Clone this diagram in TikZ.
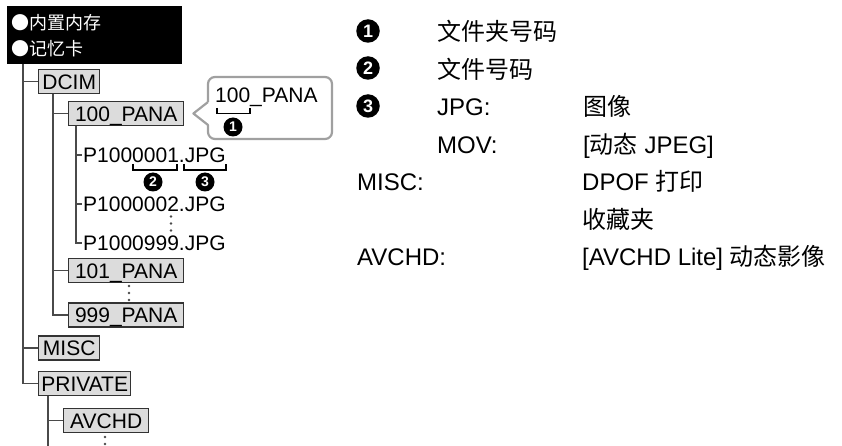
\documentclass[tikz,border=0pt]{standalone}
\usepackage{fontspec}
\setmainfont{Liberation Sans}
\newfontfamily\cjk{Noto Sans CJK SC}
\definecolor{boxfill}{HTML}{DCDCDC}
\definecolor{boxline}{HTML}{333333}
\definecolor{treeline}{HTML}{4A4A4A}
\definecolor{callgray}{HTML}{A0A0A0}
\newcommand\treefont{\fontsize{21}{24}\selectfont}
\newcommand\listfont{\fontsize{24}{28}\selectfont}
\begin{document}
\begin{tikzpicture}[x=1pt,y=-1pt,
  rootbox/.style={fill=black, text=white, anchor=north west, minimum width=175pt, minimum height=58pt,
    text width=167pt, inner xsep=4pt, align=left, font=\cjk\fontsize{18}{26}\selectfont},
  fbox/.style={draw=boxline, fill=boxfill, line width=1.4pt, font=\treefont, text height=15.1pt,
    text depth=0pt, minimum height=24pt, inner xsep=0pt, anchor=west},
  ftext/.style={font=\treefont, anchor=west, inner xsep=1pt, inner ysep=0pt, text height=15.1pt, text depth=0pt},
  ltext/.style={font=\listfont, anchor=west, inner sep=0pt, text height=17.2pt, text depth=0pt},
  tline/.style={draw=treeline, line width=1.6pt},
  brk/.style={draw=black, line width=1.8pt},
  numS/.style={circle, fill=black, text=white, inner sep=0pt, minimum size=19pt, font=\bfseries\fontsize{14}{14}\selectfont},
  numL/.style={circle, fill=black, text=white, inner sep=0pt, minimum size=23.5pt, font=\bfseries\fontsize{18}{18}\selectfont},
  dot/.style={fill=treeline}
]
\useasboundingbox (0,0) rectangle (842,446);

% root
\node[rootbox] (root) at (7,6) {●内置内存\\●记忆卡};

% folder boxes
\node[fbox, minimum width=61pt] (dcim) at (38,81.5) {DCIM};
\node[fbox, minimum width=115pt] (p100) at (68,113.5) {100\_PANA};
\node[ftext] (f001) at (82,155) {P1000001.JPG};
\node[ftext] (f002) at (82,204) {P1000002.JPG};
\node[ftext] (f999) at (82,243) {P1000999.JPG};
\node[fbox, minimum width=115pt] (p101) at (68,270.5) {101\_PANA};
\node[fbox, minimum width=115pt] (p999) at (68,315) {999\_PANA};
\node[fbox, minimum width=61pt] (misc) at (38,348) {MISC};
\node[fbox, minimum width=92pt] (private) at (38,383.5) {PRIVATE};
\node[fbox, minimum width=85pt] (avchd) at (63,420.5) {AVCHD};

% trunk
\coordinate (ttop) at (23,64);
\draw[tline] (ttop) |- (private.west);
\draw[tline] (ttop |- dcim.west) -- (dcim.west);
\draw[tline] (ttop |- misc.west) -- (misc.west);

% DCIM subtree
\coordinate (dtop) at ([xshift=15pt]dcim.south west);
\draw[tline] (dtop) |- (p999.west);
\draw[tline] (dtop |- p100.west) -- (p100.west);
\draw[tline] (dtop |- p101.west) -- (p101.west);

% 100_PANA subtree
\coordinate (ptop) at ([xshift=8pt]p100.south west);
\draw[tline] (ptop) |- (f999.west);
\draw[tline] (ptop |- f001.west) -- (f001.west);
\draw[tline] (ptop |- f002.west) -- (f002.west);

% PRIVATE subtree
\coordinate (vtop) at ([xshift=10pt]private.south west);
\coordinate (vend) at (48,446);
\draw[tline] (vtop) -- (vend);
\draw[tline] (vtop |- avchd.west) -- (avchd.west);

% dots
\fill[dot] (171,216.5) circle (1.4) (171,223.5) circle (1.4) (171,230.5) circle (1.4);
\fill[dot] (129,286) circle (1.4) (129,293) circle (1.4) (129,300) circle (1.4);
\fill[dot] (105,437) circle (1.4) (105,444) circle (1.4);

% brackets under file name
\draw[brk] (133,164) -- (133,170) -- (177,170) -- (177,164);
\draw[brk] (184,164) -- (184,170) -- (226,170) -- (226,164);
\node[numS] (n2) at (153,182) {2};
\node[numS] (n3) at (205,182) {3};

% callout
\coordinate (tip) at ([xshift=9pt]p100.east);
\draw[callgray, line width=2.2pt, line join=round]
  (208,102) -- (tip) -- (208,125) [rounded corners=7pt] -- (208,139) -- (332,139) -- (332,77) -- (208,77) [sharp corners] -- (208,102);
\node[ftext, inner xsep=0pt] (ctext) at (215,95) {100\_PANA};
\draw[brk] (217,108) -- (217,113.5) -- (250,113.5) -- (250,108);
\node[numS] (n1c) at (233,127) {1};

% legend list
\node[numL] (k1) at (368,31) {1};
\node[numL] (k2) at (368,68) {2};
\node[numL] (k3) at (368,106) {3};
\node[ltext] (l1) at (437,32) {\cjk 文件夹号码};
\node[ltext] (l2) at (437,70) {\cjk 文件号码};
\node[ltext] (l3) at (437,107) {JPG:};
\node[ltext] (l3b) at (583,107) {\cjk 图像};
\node[ltext] (l4) at (437,145) {MOV:};
\node[ltext] (l4b) at (583,145) {[{\cjk 动态} JPEG]};
\node[ltext] (l5) at (357,182) {MISC:};
\node[ltext] (l5b) at (582,182) {DPOF {\cjk 打印}};
\node[ltext] (l6b) at (582,220) {\cjk 收藏夹};
\node[ltext] (l7) at (357,257) {AVCHD:};
\node[ltext] (l7b) at (582,257) {[AVCHD Lite] {\cjk 动态影像}};
\end{tikzpicture}
\end{document}
